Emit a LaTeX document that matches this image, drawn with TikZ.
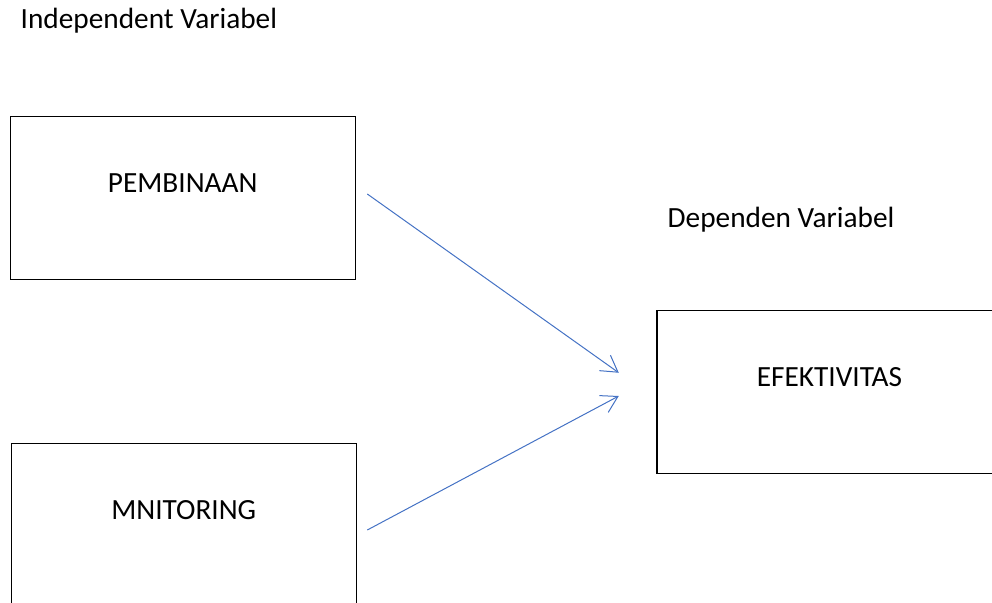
\documentclass[tikz,border=0pt]{standalone}
\usepackage{fontspec}
\setmainfont{Carlito}
\usetikzlibrary{arrows.meta}

\definecolor{linkblue}{RGB}{68,114,196}

\begin{document}
\begin{tikzpicture}[x=1pt,y=-1pt,
  varbox/.style={draw=black,line width=1.1pt,minimum width=345pt,inner sep=0pt,
    text height=76pt,text depth=87pt,font=\fontsize{29.3}{35}\selectfont},
  varlabel/.style={anchor=base west,inner sep=0pt,font=\fontsize{29.3}{35}\selectfont},
  link/.style={linkblue,line width=1pt,-{Straight Barb[length=16pt,width=19pt]}}]
  \clip (0,0) rectangle (992,602);

  % ---- Independent side ----
  \node[varlabel] (indep) at (20.5,29) {Independent Variabel};
  \node[varbox] (pemb) at (182.75,197.75) {PEMBINAAN};
  \node[varbox] (mnit) at (183.75,525) {MNITORING};

  % ---- Dependent side ----
  \node[varlabel] (dep) at (667.5,227) {Dependen Variabel};
  \node[varbox] (efek) at (829.5,391.75) {EFEKTIVITAS};

  % ---- Arrows ----
  \coordinate (pemb-out) at ([shift={(11.5,-3.75)}]pemb.east);
  \coordinate (mnit-out) at ([shift={(10.5,5)}]mnit.east);
  \coordinate (efek-in1) at ([shift={(-37.7,-19)}]efek.west);
  \coordinate (efek-in2) at ([shift={(-37.7,4.25)}]efek.west);
  \draw[link] (pemb-out) -- (efek-in1);
  \draw[link] (mnit-out) -- (efek-in2);
\end{tikzpicture}
\end{document}
